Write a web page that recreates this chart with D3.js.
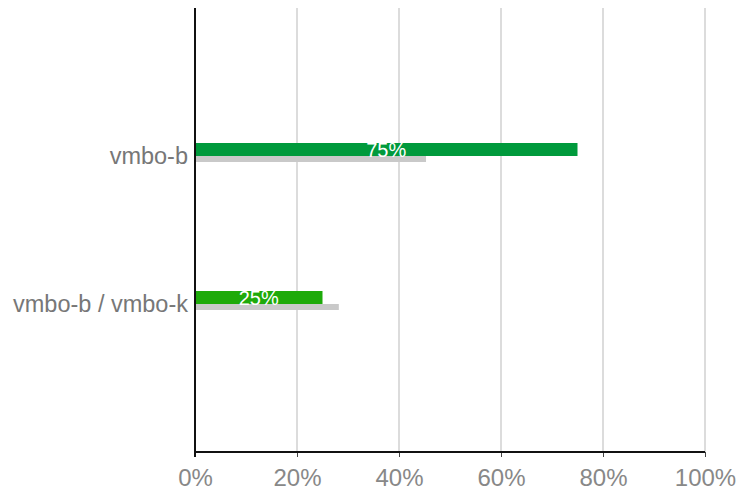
<!DOCTYPE html>
<html><head><meta charset="utf-8">
<script src="https://cdn.jsdelivr.net/npm/d3@7"></script>
<style>body{margin:0;background:#fff}</style>
</head><body>
<svg id="c" width="740" height="494"></svg>
<script>
const categories = ["vmbo-b", "vmbo-b / vmbo-k"];
const mainValues = [75, 25];
const compareValues = [45.3, 28.2];
const barColors = ["#009a3c", "#1eaa0a"];
const xTicks = [0, 20, 40, 60, 80, 100];

(function () {
const svg = d3.select("#c");
const font = "Arial, 'Liberation Sans', sans-serif";
const mLeft = 195, mRight = 705, mTop = 8, mBottom = 452;
const x = d3.scaleLinear().domain([0, 100]).range([mLeft, mRight]);
const y = d3.scalePoint().domain(categories).range([mTop, mBottom]).padding(1);

// gridlines
svg.append("g").selectAll("line").data(xTicks.filter(d => d > 0)).join("line")
  .attr("x1", d => x(d)).attr("x2", d => x(d))
  .attr("y1", mTop).attr("y2", mBottom)
  .attr("stroke", "#dcdcdc").attr("stroke-width", 2);

// x axis with small ticks
const xAxis = d3.axisBottom(x).tickValues(xTicks).tickFormat(d => d + "%").tickSize(5).tickPadding(12);
const gx = svg.append("g").attr("transform", `translate(0,${mBottom})`).call(xAxis);
gx.select(".domain").remove();
gx.selectAll(".tick line").attr("stroke", "#444").attr("stroke-width", 1);
gx.selectAll("text").attr("fill", "#888").style("font-family", font).style("font-size", "24px");

// bars
const g = svg.append("g");
categories.forEach((c, i) => {
  g.append("rect").attr("x", x(0)).attr("y", y(c)).attr("width", x(compareValues[i]) - x(0)).attr("height", 6).attr("fill", "#c9c9c9");
  g.append("rect").attr("x", x(0)).attr("y", y(c) - 13).attr("width", x(mainValues[i]) - x(0)).attr("height", 13).attr("fill", barColors[i]);
  g.append("text").attr("x", (x(0) + x(mainValues[i])) / 2).attr("y", y(c) + 1)
    .attr("text-anchor", "middle").attr("fill", "#fff")
    .style("font-family", font).style("font-size", "20px")
    .text(mainValues[i] + "%");
});

// y axis labels
const yAxis = d3.axisLeft(y).tickSize(0).tickPadding(7);
const gy = svg.append("g").attr("transform", `translate(${mLeft},0)`).call(yAxis);
gy.select(".domain").remove();
gy.selectAll("text").attr("fill", "#777").style("font-family", font).style("font-size", "23.5px");

// axis lines
svg.append("line").attr("x1", mLeft).attr("x2", mLeft).attr("y1", mTop).attr("y2", mBottom + 5).attr("stroke", "#111").attr("stroke-width", 2);
svg.append("line").attr("x1", mLeft - 1).attr("x2", mRight).attr("y1", mBottom).attr("y2", mBottom).attr("stroke", "#111").attr("stroke-width", 2);
})();
</script>
</body></html>
